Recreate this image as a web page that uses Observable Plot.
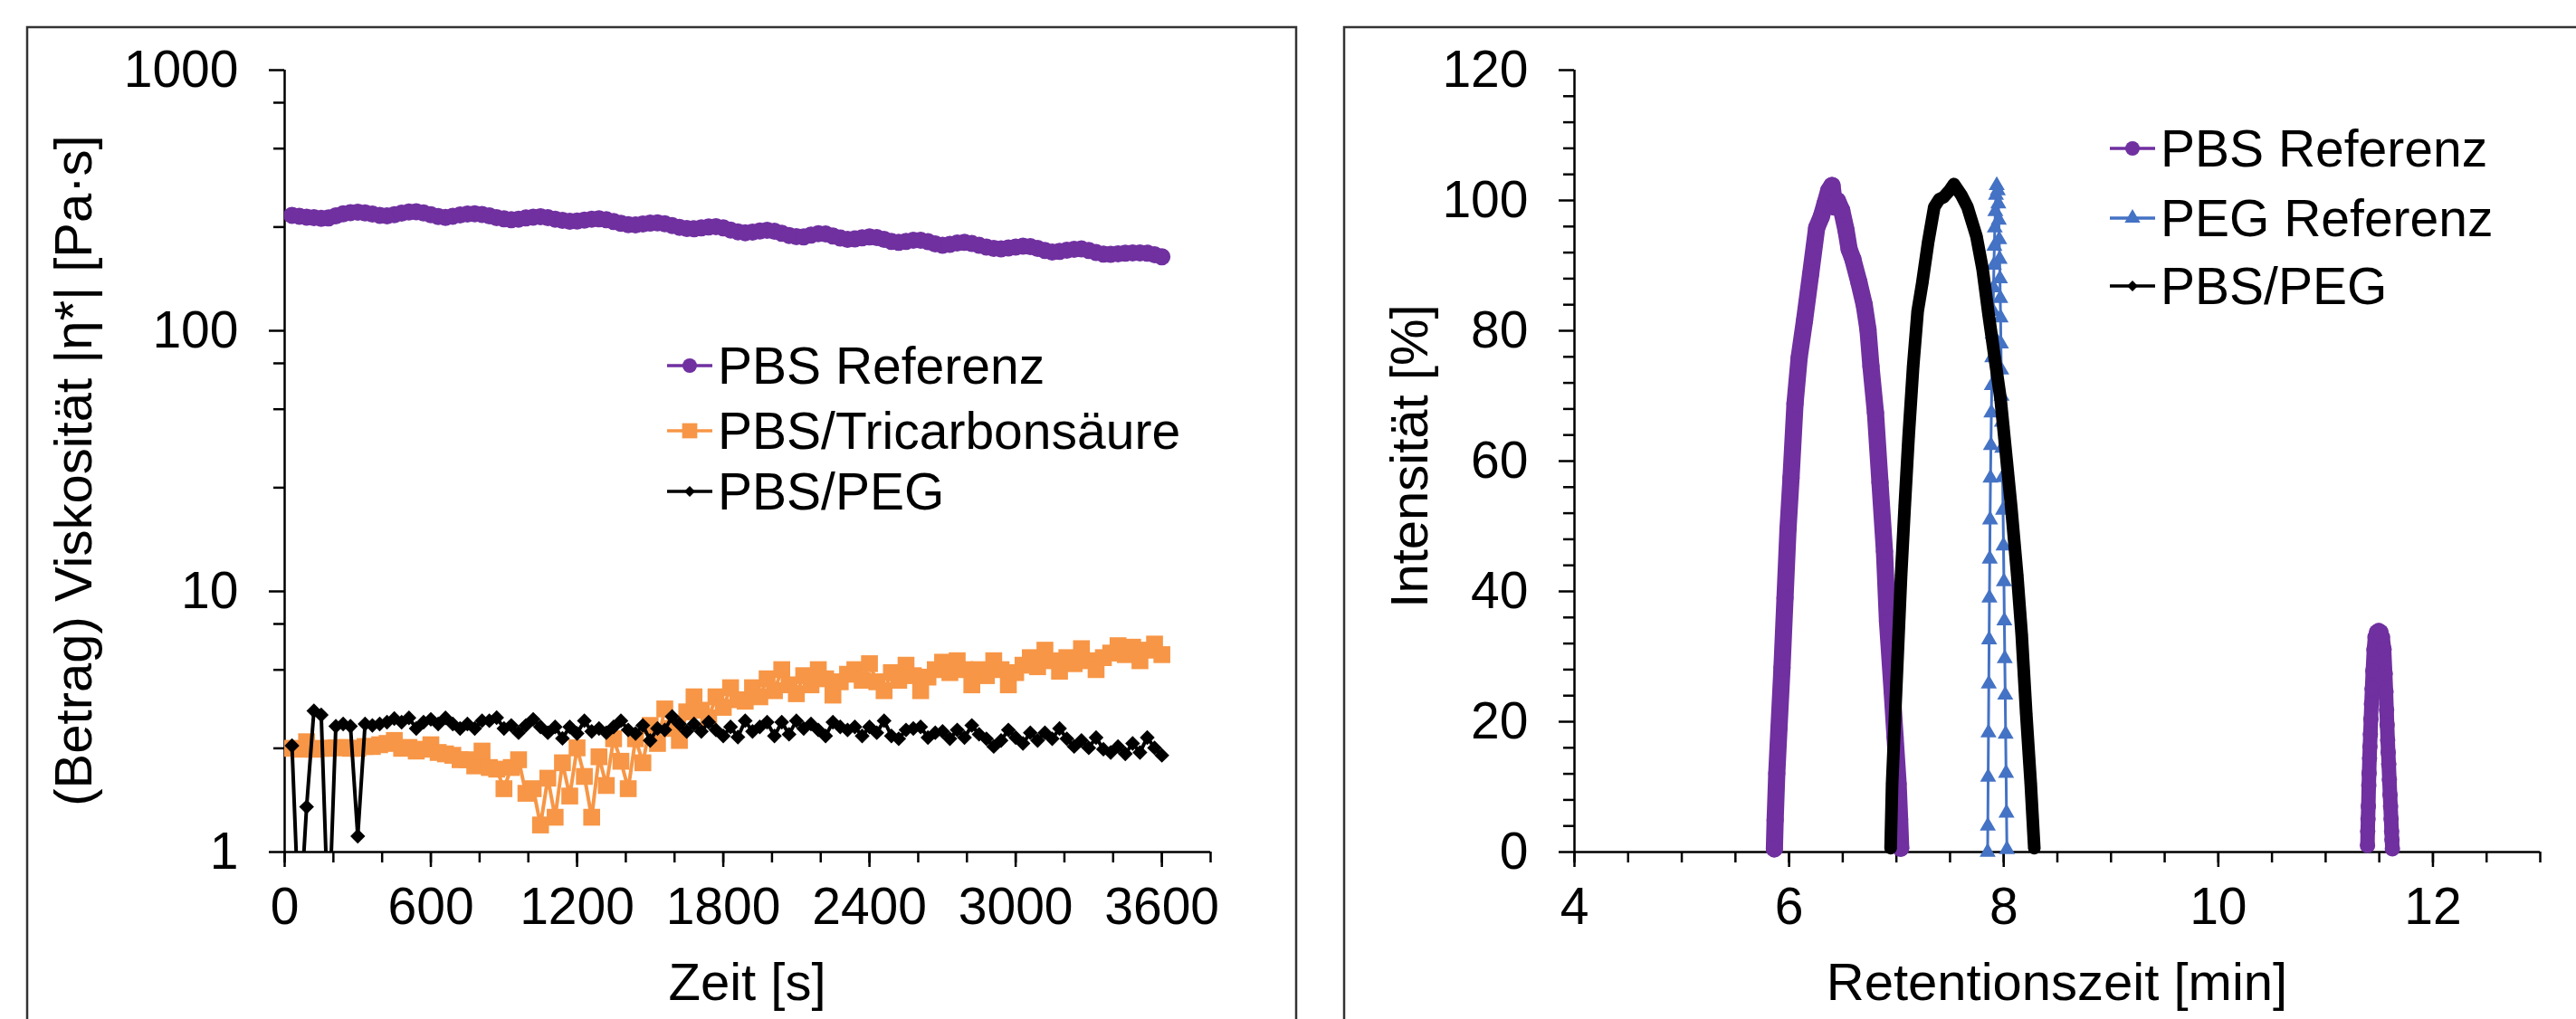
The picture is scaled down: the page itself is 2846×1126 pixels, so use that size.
<!DOCTYPE html>
<html>
<head>
<meta charset="utf-8">
<script src="https://cdn.jsdelivr.net/npm/d3@7"></script>
<script src="https://cdn.jsdelivr.net/npm/@observablehq/plot@0.6"></script>
<style>
  html, body { margin: 0; padding: 0; background: #fff; overflow: hidden; }
  #root { position: relative; width: 2846px; height: 1126px; overflow: hidden; background: #fff; }
  #root > svg { position: absolute; top: 0; }
</style>
</head>
<body>
<div id="root"></div>
<script>
// ================= DATA =================
// ---- Left panel: |eta*| vs time, one sample every 30 s (30 ... 3600 s)
const sampleStepS = 30;
const visPBSRef = [
  277.4, 275.2, 273.0, 271.6, 270.2, 270.9, 275.9, 281.1, 284.1, 284.9,
  283.4, 280.4, 277.4, 275.9, 278.9, 282.6, 285.7, 286.4, 283.4, 278.9,
  274.5, 272.3, 275.2, 278.1, 280.4, 281.1, 279.6, 275.9, 271.6, 268.8,
  266.6, 268.1, 270.9, 273.0, 273.7, 271.6, 268.1, 265.2, 263.1, 263.8,
  265.9, 268.1, 268.8, 266.6, 262.4, 258.3, 255.5, 254.8, 256.9, 258.9,
  259.6, 257.6, 253.5, 249.5, 246.9, 246.2, 248.2, 250.2, 250.8, 248.2,
  243.6, 239.7, 237.8, 239.1, 241.6, 242.9, 241.0, 236.6, 232.2, 229.8,
  229.2, 232.8, 235.9, 235.3, 231.0, 226.8, 224.3, 225.0, 227.4, 229.2,
  228.0, 224.3, 220.3, 218.4, 220.3, 222.6, 222.6, 219.7, 215.5, 212.7,
  214.4, 217.3, 218.4, 216.1, 212.7, 209.3, 207.1, 206.0, 207.7, 209.3,
  211.0, 210.4, 207.1, 203.2, 200.6, 201.7, 203.8, 205.4, 206.0, 203.2,
  199.5, 196.9, 196.4, 197.4, 198.5, 199.0, 199.0, 198.5, 195.9, 192.3
];
const visPBSTri = [
  2.50, 2.48, 2.65, 2.48, 2.50, 2.50, 2.51, 2.52, 2.50, 2.50,
  2.54, 2.54, 2.58, 2.61, 2.68, 2.50, 2.52, 2.44, 2.48, 2.58,
  2.41, 2.38, 2.35, 2.26, 2.26, 2.14, 2.44, 2.11, 2.08, 1.75,
  2.11, 2.26, 1.68, 1.75, 1.27, 1.92, 1.36, 2.20, 1.64, 2.51,
  1.95, 1.36, 2.32, 1.80, 2.72, 2.23, 1.75, 2.72, 2.20, 3.06,
  2.61, 3.54, 2.98, 2.68, 3.45, 3.94, 3.50, 3.27, 3.94, 3.59,
  4.27, 3.84, 3.79, 4.27, 3.94, 4.62, 4.16, 5.01, 4.38, 4.05,
  4.75, 4.38, 5.01, 4.62, 4.00, 4.50, 4.81, 5.01, 4.56, 5.28,
  4.50, 4.16, 4.88, 4.56, 5.21, 4.75, 4.16, 4.69, 5.01, 5.35,
  4.88, 5.42, 5.01, 4.38, 5.01, 4.75, 5.42, 5.01, 4.38, 4.88,
  5.21, 5.57, 5.14, 5.95, 5.42, 4.94, 5.57, 5.28, 6.03, 5.42,
  5.01, 5.57, 5.80, 6.19, 5.72, 6.11, 5.42, 5.95, 6.28, 5.72
];
// values below the axis minimum (1) are shown as 0.5 and clipped like in the original
const visPBSPEG = [
  2.56, 0.5, 1.49, 3.48, 3.36, 0.5, 3.04, 3.10, 3.04, 1.15,
  3.10, 3.06, 3.10, 3.15, 3.25, 3.15, 3.27, 2.98, 3.15, 3.23,
  3.10, 3.27, 3.10, 2.98, 3.10, 2.98, 3.19, 3.19, 3.28, 2.98,
  3.06, 2.87, 3.06, 3.23, 3.02, 2.87, 3.02, 2.73, 3.02, 2.85,
  3.19, 2.90, 2.98, 2.87, 3.02, 3.19, 2.94, 2.85, 3.06, 2.68,
  2.98, 2.94, 3.31, 3.10, 2.90, 3.10, 2.90, 3.15, 2.94, 2.79,
  3.02, 2.76, 3.19, 2.90, 3.02, 3.15, 2.79, 3.15, 2.83, 3.19,
  2.98, 3.10, 2.94, 2.79, 3.15, 3.02, 2.94, 3.02, 2.79, 3.02,
  2.87, 3.19, 2.79, 2.72, 2.94, 2.98, 3.02, 2.75, 2.87, 2.90,
  2.72, 2.94, 2.75, 3.06, 2.83, 2.72, 2.54, 2.68, 2.94, 2.75,
  2.61, 2.87, 2.68, 2.87, 2.72, 2.98, 2.72, 2.54, 2.68, 2.51,
  2.75, 2.48, 2.41, 2.54, 2.38, 2.61, 2.41, 2.75, 2.51, 2.35
];
const leftSeries = ["PBS Referenz", "PBS/Tricarbonsäure", "PBS/PEG"];
const leftXTicks = [0, 600, 1200, 1800, 2400, 3000, 3600];
const leftXMinor = [0,200,400,600,800,1000,1200,1400,1600,1800,2000,2200,2400,2600,2800,3000,3200,3400,3600,3800];
const leftYTicks = [1, 10, 100, 1000];
const leftYMinor = [2.5, 5, 7.5, 25, 50, 75, 250, 500, 750];

// ---- Right panel: chromatograms, intensity [%] vs retention time [min]
const rtPBS1  = [5.863,5.870,5.885,5.906,5.934,5.962,5.990,6.018,6.055,6.094,6.144,6.201,6.257,6.300,6.335,6.369,6.400,6.425,6.450,6.490,6.530,6.560,6.594,6.650,6.700,6.735,6.763,6.805,6.847,6.889,6.917,6.960,6.988,7.016,7.030,7.040];
const intPBS1 = [0.5,4.9,12.0,19.1,28.3,39.0,49.6,57.4,68.8,75.9,81.6,88.7,95.8,97.5,99.5,101.5,102.3,99.0,100.0,98.5,95.5,92.5,91.0,87.5,84.0,80.2,74.5,67.4,56.7,46.1,35.4,24.8,17.6,10.5,5.0,0.6];
const rtPBS2  = [11.390,11.392,11.395,11.398,11.402,11.405,11.409,11.413,11.417,11.422,11.427,11.433,11.440,11.450,11.460,11.475,11.495,11.515,11.530,11.545,11.555,11.562,11.568,11.573,11.578,11.583,11.588,11.594,11.600,11.605,11.610,11.615,11.618,11.622];
const intPBS2 = [1.0,3.2,5.1,7.0,10.2,12.1,14.4,16.2,18.1,20.4,22.7,25.1,27.8,31.1,33.0,33.8,34.0,33.8,33.0,31.1,27.4,24.6,21.8,19.5,17.2,15.3,13.5,11.1,8.8,7.0,5.1,3.2,1.9,0.5];
const rtPEG  = [7.850,7.852,7.855,7.858,7.861,7.864,7.867,7.870,7.873,7.877,7.881,7.885,7.889,7.893,7.897,7.901,7.905,7.909,7.913,7.917,7.922,7.928,7.935,7.945,7.950,7.954,7.958,7.962,7.965,7.968,7.971,7.974,7.977,7.980,7.983,7.986,7.990,7.994,7.998,8.002,8.006,8.010,8.014,8.018,8.022,8.026,8.030];
const intPEG = [0,4.0,11.5,18.3,25.8,32.6,39.0,45.0,51.0,57.4,62.4,67.4,71.6,75.9,79.5,83.0,86.6,90.1,93.0,95.8,98.3,100.8,102.3,101.5,99.5,97.0,94.0,91.0,88.0,85.0,82.0,78.0,74.0,70.0,66.0,62.0,57.5,52.5,47.0,41.5,35.5,29.7,24.1,18.1,12.1,6.0,0.4];
const rtMix  = [6.946,6.960,6.988,7.016,7.044,7.078,7.114,7.156,7.198,7.241,7.297,7.353,7.400,7.440,7.494,7.536,7.606,7.662,7.746,7.803,7.859,7.915,7.971,8.028,8.070,8.126,8.168,8.210,8.252,8.285];
const intMix = [0.6,10.5,21.2,31.8,42.5,53.2,63.8,74.5,83.0,87.3,93.7,99.0,100.2,100.5,101.5,102.5,100.8,99.0,94.5,89.5,82.5,76.0,69.5,60.0,53.0,42.5,33.3,21.2,10.5,0.6];
const rightSeries = ["PBS Referenz", "PEG Referenz", "PBS/PEG"];
const rightXTicks = [4, 6, 8, 10, 12];
const rightXMinor = [4,4.5,5,5.5,6,6.5,7,7.5,8,8.5,9,9.5,10,10.5,11,11.5,12,12.5,13];
const rightYTicks = [0, 20, 40, 60, 80, 100, 120];
const rightYMinor = [4,8,12,16,24,28,32,36,44,48,52,56,64,68,72,76,84,88,92,96,104,108,112,116];

// ================= STYLE =================
const FONT = '"Liberation Sans", Arial, Helvetica, sans-serif';
const C = {purple: "#7030A0", orange: "#F79646", black: "#000000", blue: "#4472C4"};
const W = 2846, H = 1126;
const TOP = 77, BOTTOM = 941;

// ================= LEFT PLOT =================
const toRows = (vals) => vals.map((v, i) => ({t: (i + 1) * sampleStepS, v}));
const pbsL = toRows(visPBSRef), triL = toRows(visPBSTri), pegL = toRows(visPBSPEG);

const axisCommon = {stroke: "#000", strokeWidth: 2.5, fontSize: 57, label: null};
const LW = 1440;
const left = Plot.plot({
  width: LW, height: H,
  marginLeft: 314, marginRight: LW - 1337, marginTop: TOP, marginBottom: H - BOTTOM,
  x: {domain: [0, 3800], label: null},
  y: {type: "log", domain: [1, 1000], label: null},
  style: {fontFamily: FONT, fontSize: "57px", color: "#000", background: "transparent", overflow: "visible"},
  marks: [
    Plot.axisY(leftYMinor, {...axisCommon, tickSize: 12, tickFormat: () => ""}),
    Plot.axisY(leftYTicks, {...axisCommon, tickSize: 17, tickPadding: 34, tickFormat: d => String(d)}),
    Plot.axisX(leftXMinor, {...axisCommon, tickSize: 12, tickFormat: () => ""}),
    Plot.axisX(leftXTicks, {...axisCommon, tickSize: 17, tickPadding: 22, tickFormat: d => String(d)}),
    Plot.ruleX([0], {y1: 1, y2: 1000, stroke: "#000", strokeWidth: 2.5}),
    Plot.ruleY([1], {x1: 0, x2: 3800, stroke: "#000", strokeWidth: 2.5}),
    Plot.line(pbsL, {x: "t", y: "v", stroke: C.purple, strokeWidth: 4, clip: true}),
    Plot.dot(pbsL, {x: "t", y: "v", fill: C.purple, r: 9.5, clip: true}),
    Plot.line(triL, {x: "t", y: "v", stroke: C.orange, strokeWidth: 4, clip: true}),
    Plot.dot(triL, {x: "t", y: "v", fill: C.orange, symbol: "square", r: 10.5, clip: true}),
    Plot.line(pegL, {x: "t", y: "v", stroke: C.black, strokeWidth: 4, clip: true}),
    Plot.dot(pegL, {x: "t", y: "v", fill: C.black, symbol: "diamond2", r: 7.4, clip: true})
  ]
});
left.style.left = "0px";

// ================= RIGHT PLOT =================
const pts = (xs, ys) => xs.map((x, i) => ({x, y: ys[i]}));
const pbsR1 = pts(rtPBS1, intPBS1), pbsR2 = pts(rtPBS2, intPBS2);
const pegR = pts(rtPEG, intPEG), mixR = pts(rtMix, intMix);
const RX = 1440, RW = W - RX;
const right = Plot.plot({
  width: RW, height: H,
  marginLeft: 1739 - RX, marginRight: RW - (2806 - RX), marginTop: TOP, marginBottom: H - BOTTOM,
  x: {domain: [4, 13], label: null},
  y: {domain: [0, 120], label: null},
  style: {fontFamily: FONT, fontSize: "57px", color: "#000", background: "transparent", overflow: "visible"},
  marks: [
    Plot.axisY(rightYMinor, {...axisCommon, tickSize: 12, tickFormat: () => ""}),
    Plot.axisY(rightYTicks, {...axisCommon, tickSize: 17, tickPadding: 34, tickFormat: d => String(d)}),
    Plot.axisX(rightXMinor, {...axisCommon, tickSize: 12, tickFormat: () => ""}),
    Plot.axisX(rightXTicks, {...axisCommon, tickSize: 17, tickPadding: 22, tickFormat: d => String(d)}),
    Plot.ruleX([4], {y1: 0, y2: 120, stroke: "#000", strokeWidth: 2.5}),
    Plot.ruleY([0], {x1: 4, x2: 13, stroke: "#000", strokeWidth: 2.5}),
    Plot.line(pbsR1, {x: "x", y: "y", stroke: C.purple, strokeWidth: 19, strokeLinejoin: "round", strokeLinecap: "round"}),
    Plot.dot(pbsR1, {x: "x", y: "y", fill: C.purple, r: 9.5}),
    Plot.line(pbsR2, {x: "x", y: "y", stroke: C.purple, strokeWidth: 16, strokeLinejoin: "round", strokeLinecap: "round"}),
    Plot.dot(pbsR2, {x: "x", y: "y", fill: C.purple, r: 8.5}),
    Plot.line(pegR, {x: "x", y: "y", stroke: C.blue, strokeWidth: 3}),
    Plot.dot(pegR, {x: "x", y: "y", fill: C.blue, symbol: "triangle", r: 6.6}),
    Plot.line(mixR, {x: "x", y: "y", stroke: C.black, strokeWidth: 14, strokeLinejoin: "round", strokeLinecap: "round"}),
    Plot.dot(mixR, {x: "x", y: "y", fill: C.black, symbol: "diamond2", r: 6.2})
  ]
});
right.style.left = RX + "px";

const root = document.getElementById("root");
root.appendChild(left);
root.appendChild(right);

// ================= OVERLAY: frames, axis titles, legends =================
const ov = d3.create("svg").attr("width", W).attr("height", H)
  .style("position", "absolute").style("left", "0px").style("top", "0px")
  .style("font-family", FONT);
ov.append("rect").attr("x", 30).attr("y", 30).attr("width", 1402).attr("height", 1300)
  .attr("fill", "none").attr("stroke", "#333").attr("stroke-width", 2.5);
ov.append("rect").attr("x", 1485).attr("y", 30).attr("width", 1500).attr("height", 1300)
  .attr("fill", "none").attr("stroke", "#333").attr("stroke-width", 2.5);

const TFS = 58;
function xTitle(txt, cx, cy) {
  ov.append("text").attr("x", cx).attr("y", cy).attr("dy", "0.358em")
    .attr("text-anchor", "middle").attr("font-size", TFS).text(txt);
}
function yTitle(txt, cx, cy) {
  ov.append("text").attr("transform", `translate(${cx},${cy}) rotate(-90)`).attr("dy", "0.358em")
    .attr("text-anchor", "middle").attr("font-size", TFS).text(txt);
}
xTitle("Zeit [s]", (314 + 1337) / 2, 1084);
yTitle("(Betrag) Viskosität |η*| [Pa·s]", 80, 520);
xTitle("Retentionszeit [min]", (1739 + 2806) / 2, 1084);
yTitle("Intensität [%]", 1556, 504);

function marker(g, kind, cx, cy, color) {
  const sym = {circle: d3.symbolCircle, square: d3.symbolSquare, diamond: d3.symbolDiamond2, triangle: d3.symbolTriangle}[kind];
  const size = {circle: 200, square: 280, diamond: 90, triangle: 130}[kind];
  g.append("path").attr("d", d3.symbol(sym, size)()).attr("transform", `translate(${cx},${cy})`).attr("fill", color);
}
function legend(names, colors, kinds, x0, rows) {
  names.forEach((name, i) => {
    const g = ov.append("g");
    const y = rows[i];
    g.append("line").attr("x1", x0).attr("x2", x0 + 50).attr("y1", y).attr("y2", y)
      .attr("stroke", colors[i]).attr("stroke-width", 3.5);
    marker(g, kinds[i], x0 + 25, y, colors[i]);
    g.append("text").attr("x", x0 + 56).attr("y", y).attr("dy", "0.358em")
      .attr("font-size", 57).text(name);
  });
}
legend(leftSeries, [C.purple, C.orange, C.black], ["circle", "square", "diamond"], 737, [404, 476, 543]);
legend(rightSeries, [C.purple, C.blue, C.black], ["circle", "triangle", "diamond"], 2331, [164, 241, 316]);

root.appendChild(ov.node());
</script>
</body>
</html>
